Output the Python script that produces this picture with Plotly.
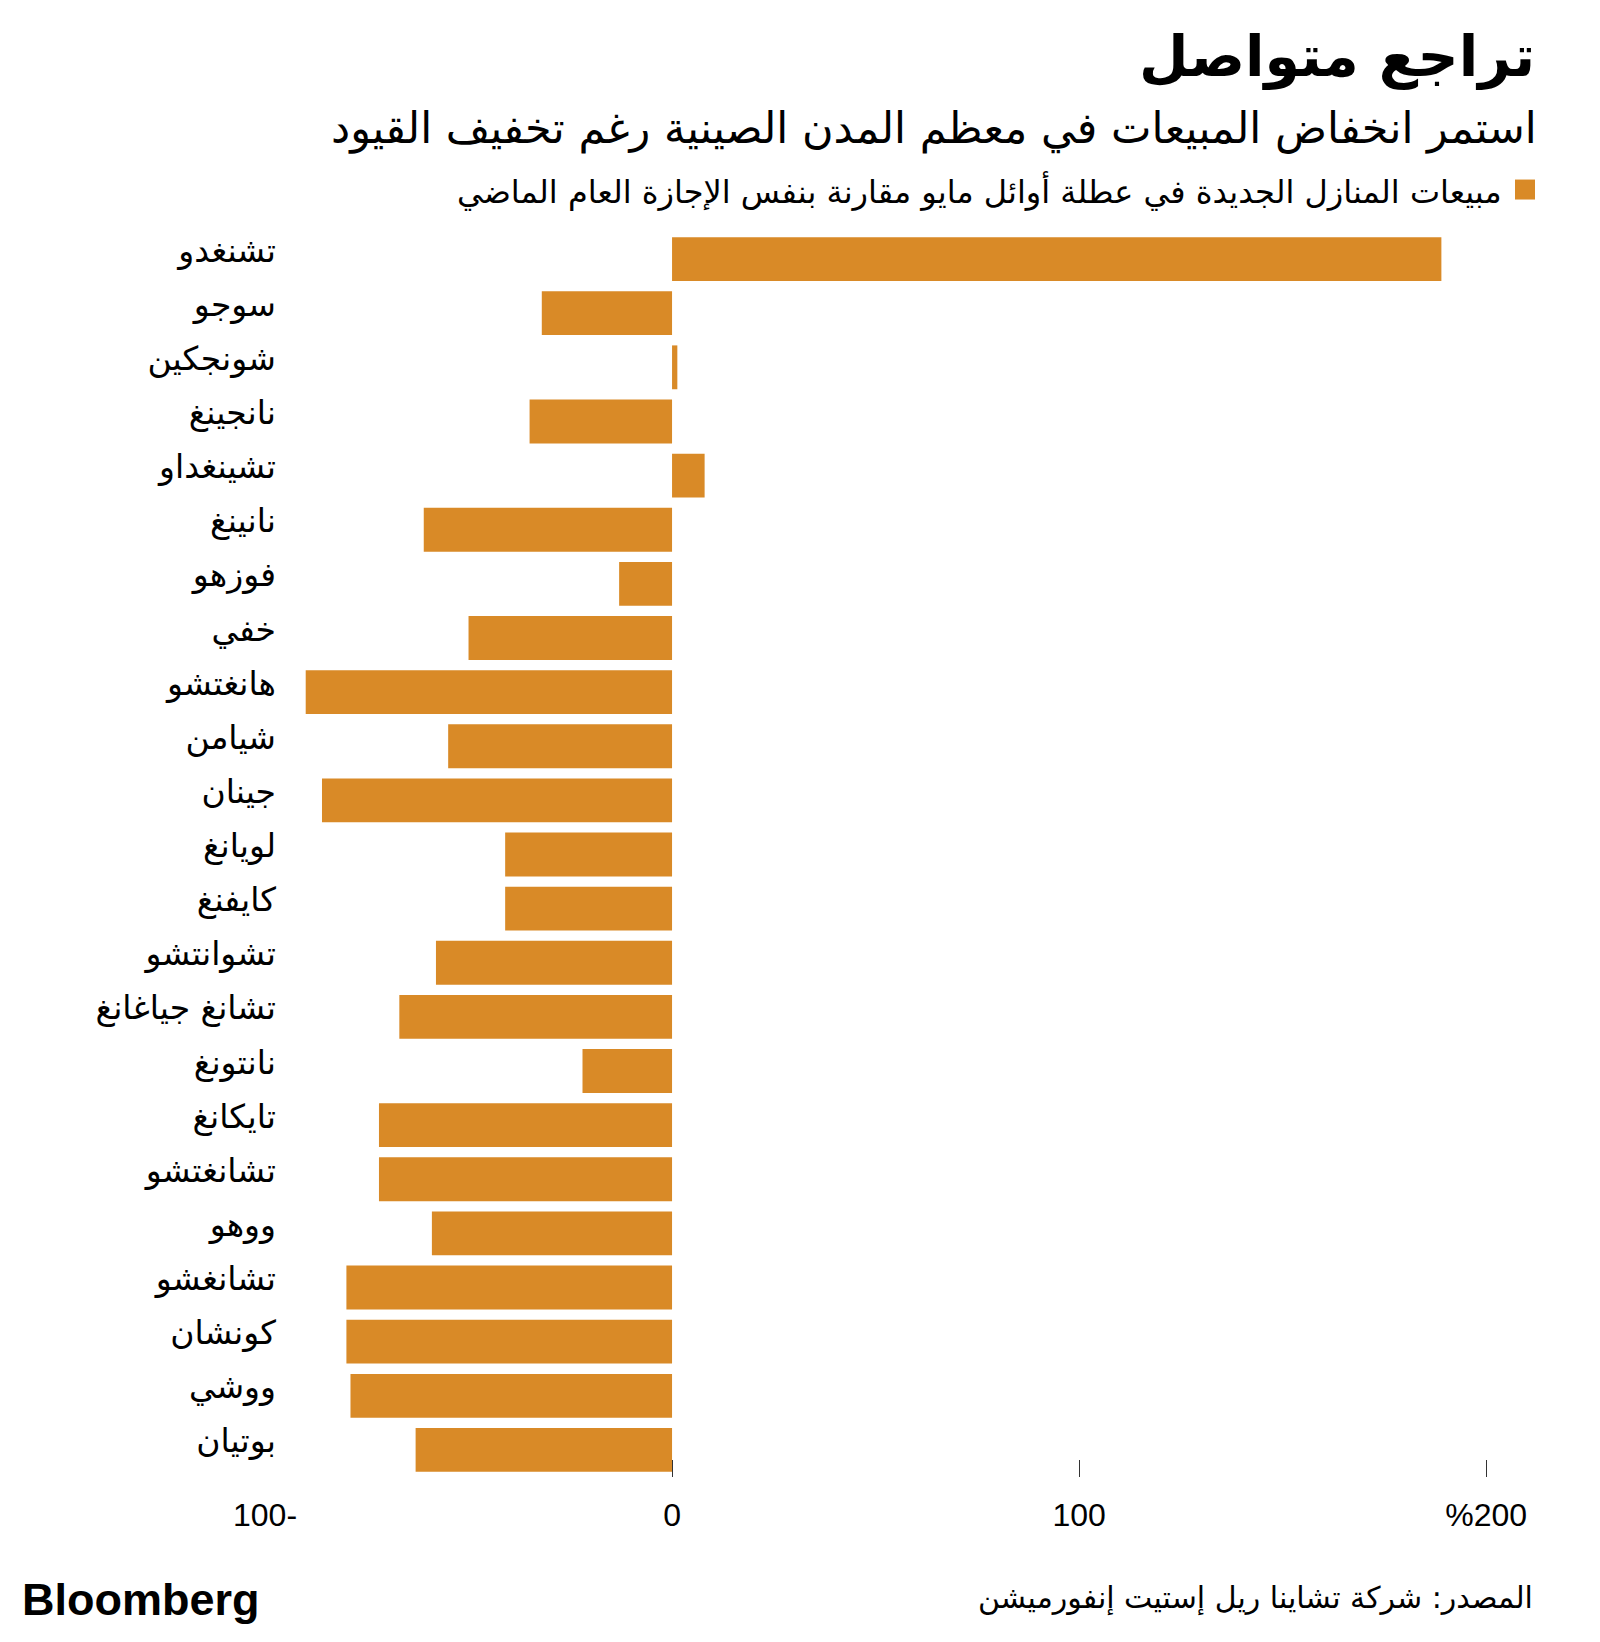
import plotly.graph_objects as go

cities = ["تشنغدو", "سوجو", "شونجكين", "نانجينغ", "تشينغداو", "نانينغ", "فوزهو", "خفي",
          "هانغتشو", "شيامن", "جينان", "لويانغ", "كايفنغ", "تشوانتشو", "تشانغ جياغانغ",
          "نانتونغ", "تايكانغ", "تشانغتشو", "ووهو", "تشانغشو", "كونشان", "ووشي", "بوتيان"]
values = [189, -32, 1.3, -35, 8, -61, -13, -50, -90, -55, -86, -41, -41, -58, -67,
          -22, -72, -72, -59, -80, -80, -79, -63]

tick_vals = [-100, 0, 100, 200]
tick_text = ["100-", "0", "100", "%200"]
tick_marks = [0, 100, 200]

title = "تراجع متواصل"
subtitle = "استمر انخفاض المبيعات في معظم المدن الصينية رغم تخفيف القيود"
legend_label = "مبيعات المنازل الجديدة في عطلة أوائل مايو مقارنة بنفس الإجازة العام الماضي"
source = "المصدر: شركة تشاينا ريل إستيت إنفورميشن"

ORANGE = "#d98a27"
AR_FONT = "DejaVu Sans, sans-serif"
LAT_FONT = "Liberation Sans, Arial, sans-serif"

OFF = 8  # page body margin
W, H = 1600 - 2 * OFF, 1642 - 2 * OFF
# plot area in page (reference) pixel coordinates
P_LEFT, P_RIGHT, P_TOP, P_BOTTOM = 265, 1535, 231.5, 1477.5
ML = P_LEFT - OFF
MR = W - (P_RIGHT - OFF)
MT = P_TOP - OFF
MB = H - (P_BOTTOM - OFF)
plot_w = P_RIGHT - P_LEFT
plot_h = P_BOTTOM - P_TOP


def pxx(xpage):
    return (xpage - P_LEFT) / plot_w


def pyy(ypage):
    return (P_BOTTOM - ypage) / plot_h


fig = go.Figure()
fig.add_trace(go.Bar(
    y=cities, x=values, orientation="h",
    marker=dict(color=ORANGE, line=dict(width=0)),
    name=legend_label, showlegend=False,
))
# empty trace to register the label axis
fig.add_trace(go.Scatter(x=[], y=[], xaxis="x2", yaxis="y", showlegend=False))

fig.update_layout(
    width=W, height=H,
    margin=dict(l=ML, r=MR, t=MT, b=MB, pad=0),
    paper_bgcolor="white", plot_bgcolor="white",
    bargap=0.19,
    showlegend=False,
    xaxis=dict(
        range=[-100, 212], showgrid=False, zeroline=False, showline=False,
        tickvals=tick_marks, ticks="inside", ticklen=17, tickwidth=1, tickcolor="#333",
        showticklabels=False,
    ),
    xaxis2=dict(
        overlaying="x", matches="x", side="bottom", anchor="y",
        showgrid=False, zeroline=False, showline=False,
        tickvals=tick_vals, ticktext=tick_text, ticks="",
        ticklabelstandoff=16,
        tickfont=dict(family=LAT_FONT, size=32, color="#000"),
    ),
    yaxis=dict(
        autorange="reversed", showgrid=False, zeroline=False, showline=False,
        ticks="", anchor="free", position=pxx(276),
        ticklabelshift=9,
        tickfont=dict(family=AR_FONT, size=33, color="#000"),
    ),
    font=dict(family=AR_FONT, color="#000"),
)

anns = [
    dict(text="<b>" + title + "</b>", x=pxx(1537), y=pyy(56), xanchor="right", yanchor="middle",
         font=dict(size=57, family=AR_FONT, color="#000")),
    dict(text=subtitle, x=pxx(1539), y=pyy(128), xanchor="right", yanchor="middle",
         font=dict(size=43, family=AR_FONT, color="#000")),
    dict(text=legend_label, x=pxx(1504), y=pyy(190), xanchor="right", yanchor="middle",
         font=dict(size=32, family=AR_FONT, color="#000")),
    dict(text="<b>Bloomberg</b>", x=pxx(20), y=pyy(1600), xanchor="left", yanchor="middle",
         font=dict(size=45, family=LAT_FONT, color="#000")),
    dict(text=source, x=pxx(1535), y=pyy(1599), xanchor="right", yanchor="middle",
         font=dict(size=30, family=AR_FONT, color="#000")),
]
for a in anns:
    a.update(xref="paper", yref="paper", showarrow=False)
fig.update_layout(annotations=anns)

fig.add_shape(type="rect", xref="paper", yref="paper",
              x0=pxx(1515), x1=pxx(1535), y0=pyy(199), y1=pyy(179),
              fillcolor=ORANGE, line=dict(width=0))

fig.write_html("out.html")
